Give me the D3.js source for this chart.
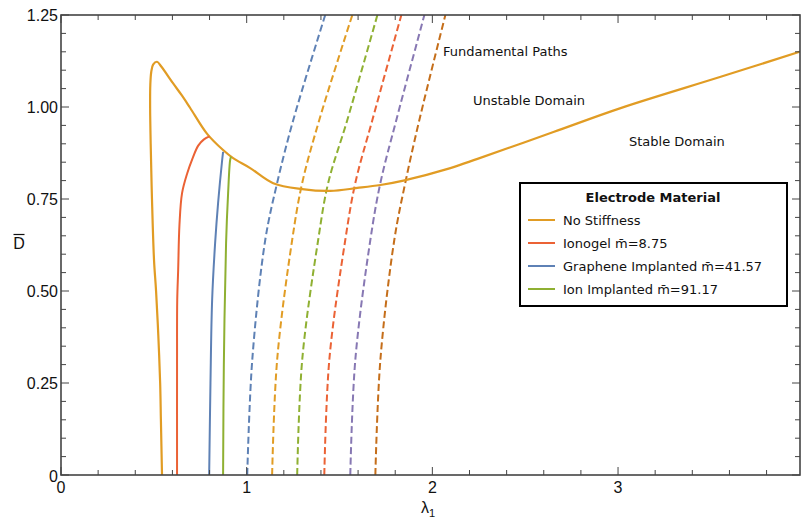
<!DOCTYPE html>
<meta charset="utf-8">
<style>
  body { margin: 0; background: #fff; }
  svg text { font-family: "Liberation Sans", Arial, sans-serif; }
  .note { font-family: "DejaVu Sans", Verdana, sans-serif; font-size: 13px; fill: #111; }
</style>
<script src="https://d3js.org/d3.v7.min.js"></script>
<div id="chart"></div>
<script>
// colours (Mathematica default palette)
const palette = ["#5E81B5", "#E19C24", "#8FB032", "#EB6235", "#8778B3", "#C56E1A"];

// fundamental path, no stiffness: [lambda1, Dbar]
const fundLam = [0.544, 0.538, 0.534, 0.524, 0.512, 0.501, 0.490, 0.483, 0.480, 0.481, 0.486, 0.496, 0.517, 0.540, 0.604, 0.650, 0.695, 0.787, 0.873, 0.927, 1.019, 1.143, 1.299, 1.450, 1.596, 1.720, 1.844, 2.097, 2.243, 2.652, 3.014, 3.553, 3.990];
const fundD   = [0.000, 0.150, 0.250, 0.380, 0.500, 0.584, 0.750, 0.900, 1.000, 1.060, 1.095, 1.115, 1.123, 1.110, 1.064, 1.032, 0.998, 0.927, 0.883, 0.861, 0.834, 0.793, 0.777, 0.772, 0.780, 0.788, 0.800, 0.834, 0.859, 0.932, 0.997, 1.082, 1.152];

// Ionogel
const ionoLam = [0.625, 0.625, 0.626, 0.631, 0.638, 0.652, 0.680, 0.706, 0.739, 0.770, 0.800];
const ionoD   = [0.000, 0.300, 0.476, 0.557, 0.680, 0.766, 0.820, 0.857, 0.895, 0.912, 0.920];
// Graphene implanted
const grapLam = [0.798, 0.805, 0.814, 0.830, 0.846, 0.868, 0.873];
const grapD   = [0.000, 0.250, 0.476, 0.630, 0.739, 0.856, 0.878];
// Ion implanted
const ionImpLam = [0.873, 0.877, 0.889, 0.900, 0.911, 0.916];
const ionImpD   = [0.000, 0.300, 0.630, 0.766, 0.856, 0.865];

// dashed fundamental paths, lambda1 at each Dbar level
const dashD = [0, 0.3125, 0.6386, 0.7935, 0.9647, 1.25];
const dash1 = [1.003, 1.030, 1.100, 1.164, 1.251, 1.423];
const dash2 = [1.137, 1.164, 1.245, 1.299, 1.391, 1.569];
const dash3 = [1.272, 1.299, 1.385, 1.439, 1.542, 1.704];
const dash4 = [1.418, 1.445, 1.531, 1.585, 1.677, 1.833];
const dash5 = [1.558, 1.585, 1.666, 1.720, 1.806, 1.957];
const dash6 = [1.693, 1.720, 1.795, 1.854, 1.930, 2.070];

const legendNames = ["No Stiffness", "Ionogel m\u0304=8.75", "Graphene Implanted m\u0304=41.57", "Ion Implanted m\u0304=91.17"];
const legendCols = [palette[1], palette[3], palette[0], palette[2]];

const W = 801, H = 520;
const svg = d3.select("#chart").append("svg").attr("width", W).attr("height", H);

const x = d3.scaleLinear().domain([0, 3.98]).range([61, 800]);
const y = d3.scaleLinear().domain([0, 1.25]).range([475, 15]);

svg.append("clipPath").attr("id", "clip")
  .append("rect").attr("x", 61).attr("y", 15).attr("width", 739).attr("height", 460);

const plot = svg.append("g").attr("clip-path", "url(#clip)");

const line = d3.line()
  .x(d => x(d[0])).y(d => y(d[1]))
  .curve(d3.curveCatmullRom.alpha(0.5));

const zip = (a, b) => a.map((v, i) => [v, b[i]]);

// dashed paths
[dash1, dash2, dash3, dash4, dash5, dash6].forEach((lams, i) => {
  plot.append("path")
    .attr("d", line(zip(lams, dashD)))
    .attr("fill", "none")
    .attr("stroke", palette[i])
    .attr("stroke-width", 2)
    .attr("stroke-dasharray", "7,3.5");
});

// solid curves
plot.append("path").attr("d", line(zip(fundLam, fundD)))
  .attr("fill", "none").attr("stroke", palette[1]).attr("stroke-width", 2.2);
plot.append("path").attr("d", line(zip(ionoLam, ionoD)))
  .attr("fill", "none").attr("stroke", palette[3]).attr("stroke-width", 2);
plot.append("path").attr("d", line(zip(grapLam, grapD)))
  .attr("fill", "none").attr("stroke", palette[0]).attr("stroke-width", 2);
plot.append("path").attr("d", line(zip(ionImpLam, ionImpD)))
  .attr("fill", "none").attr("stroke", palette[2]).attr("stroke-width", 2);

// frame and ticks
const axisCol = "#444";
const xMinor = d3.range(0, 3.99, 0.2);
const yMinor = d3.range(0, 1.2501, 0.05);
const isMajor = (v, step) => Math.abs(v / step - Math.round(v / step)) < 1e-6;

const ticks = svg.append("g").attr("stroke", axisCol).attr("stroke-width", 1);
xMinor.forEach(v => {
  const len = isMajor(v, 1) ? 8 : 5;
  ticks.append("line").attr("x1", x(v)).attr("x2", x(v)).attr("y1", 475).attr("y2", 475 - len);
  ticks.append("line").attr("x1", x(v)).attr("x2", x(v)).attr("y1", 15).attr("y2", 15 + len);
});
yMinor.forEach(v => {
  const len = isMajor(v, 0.25) ? 8 : 5;
  ticks.append("line").attr("x1", 61).attr("x2", 61 + len).attr("y1", y(v)).attr("y2", y(v));
  ticks.append("line").attr("x1", 800).attr("x2", 800 - len).attr("y1", y(v)).attr("y2", y(v));
});

svg.append("rect").attr("x", 61).attr("y", 15).attr("width", 739).attr("height", 460)
  .attr("fill", "none").attr("stroke", axisCol).attr("stroke-width", 1.6);

// tick labels
const xLabels = [0, 1, 2, 3];
const yLabels = [0.25, 0.5, 0.75, 1.0, 1.25];
xLabels.forEach(v => {
  svg.append("text").attr("x", x(v)).attr("y", 493)
    .attr("text-anchor", "middle").attr("font-size", 16).attr("fill", "#111")
    .text(v);
});
yLabels.forEach(v => {
  svg.append("text").attr("x", 58).attr("y", y(v) + 6)
    .attr("text-anchor", "end").attr("font-size", 16).attr("fill", "#111")
    .text(d3.format(".2f")(v));
});
svg.append("text").attr("x", 58).attr("y", 482)
  .attr("text-anchor", "end").attr("font-size", 16).attr("fill", "#111").text("0");

// axis titles
const xt = svg.append("text").attr("x", 428).attr("y", 513)
  .attr("text-anchor", "middle").attr("font-size", 16).attr("fill", "#111");
xt.append("tspan").text("\u03bb");
xt.append("tspan").attr("font-size", 11).attr("dy", 4).text("1");

svg.append("text").attr("x", 19).attr("y", 249)
  .attr("text-anchor", "middle").attr("font-size", 16).attr("fill", "#111")
  .text("D");
svg.append("line").attr("x1", 13.5).attr("x2", 24.5).attr("y1", 234.5).attr("y2", 234.5)
  .attr("stroke", "#111").attr("stroke-width", 1.2);

// annotations
svg.append("text").attr("class", "note").attr("x", 443).attr("y", 56).text("Fundamental Paths");
svg.append("text").attr("class", "note").attr("x", 473).attr("y", 105).text("Unstable Domain");
svg.append("text").attr("class", "note").attr("x", 629).attr("y", 146).text("Stable Domain");

// legend
const lg = svg.append("g");
lg.append("rect").attr("x", 520).attr("y", 183).attr("width", 267).attr("height", 123)
  .attr("fill", "#fff").attr("stroke", "#000").attr("stroke-width", 2);
lg.append("text").attr("class", "note").attr("x", 653).attr("y", 202)
  .attr("text-anchor", "middle").attr("font-weight", "bold").text("Electrode Material");
legendNames.forEach((name, i) => {
  const cy = 220 + i * 23;
  lg.append("line").attr("x1", 528).attr("x2", 555).attr("y1", cy).attr("y2", cy)
    .attr("stroke", legendCols[i]).attr("stroke-width", 2);
  lg.append("text").attr("class", "note").attr("x", 563).attr("y", cy + 5).text(name);
});
</script>
